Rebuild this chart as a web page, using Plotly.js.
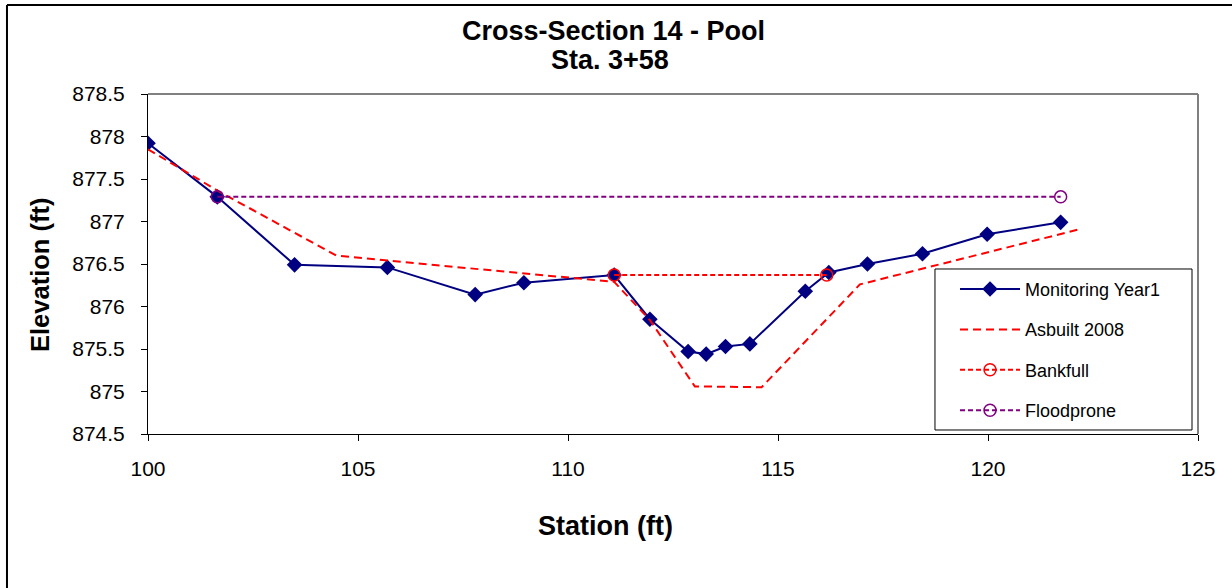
<!DOCTYPE html>
<html>
<head>
<meta charset="utf-8">
<script src="https://cdn.plot.ly/plotly-3.0.1.min.js"></script>
<style>html,body{margin:0;padding:0;background:#fff;}#chart{width:1232px;height:588px;}</style>
</head>
<body>
<div id="chart"></div>
<script>
// Monitoring Year1
const monX = [100.0, 101.65, 103.49, 105.70, 107.79, 108.95, 111.10, 111.95, 112.86, 113.29, 113.75, 114.33, 115.65, 116.21, 117.13, 118.44, 119.98, 121.73];
const monY = [877.92, 877.29, 876.49, 876.46, 876.14, 876.28, 876.37, 875.85, 875.47, 875.44, 875.53, 875.56, 876.18, 876.40, 876.50, 876.62, 876.85, 876.99];
// Asbuilt 2008
const asbX = [100.0, 101.70, 104.48, 105.70, 111.10, 111.95, 113.02, 114.61, 116.95, 122.19];
const asbY = [877.85, 877.35, 876.60, 876.54, 876.29, 875.84, 875.06, 875.05, 876.26, 876.91];
// Bankfull
const bkfX = [111.10, 116.16];
const bkfY = [876.37, 876.37];
// Floodprone
const fpX = [101.65, 121.73];
const fpY = [877.29, 877.29];

const titleLines = ['Cross-Section 14 - Pool', 'Sta. 3+58'];
const xTitle = 'Station (ft)';
const yTitle = 'Elevation (ft)';
const xTicks = [100, 105, 110, 115, 120, 125];
const yTicks = [874.5, 875, 875.5, 876, 876.5, 877, 877.5, 878, 878.5];
const yTickText = ['874.5', '875', '875.5', '876', '876.5', '877', '877.5', '878', '878.5'];

const font = 'Liberation Sans, Arial, sans-serif';

const traces = [
  {x: monX, y: monY, name: 'Monitoring Year1', mode: 'lines+markers', legendgroup: 'a',
   line: {color: '#000080', width: 2}, marker: {symbol: 'diamond', size: 12, color: '#000080'}},
  {x: asbX, y: asbY, name: 'Asbuilt 2008', mode: 'lines', legendgroup: 'b',
   line: {color: '#ff0000', width: 2, dash: '8px,5px'}},
  {x: bkfX, y: bkfY, name: 'Bankfull', mode: 'lines+markers', legendgroup: 'c',
   line: {color: '#ff0000', width: 2, dash: '5px,3px'},
   marker: {symbol: 'circle-open', size: 12, color: '#ff0000', line: {width: 1.5}}},
  {x: fpX, y: fpY, name: 'Floodprone', mode: 'lines+markers', legendgroup: 'd',
   line: {color: '#800080', width: 2, dash: '5px,3px'},
   marker: {symbol: 'circle-open', size: 12, color: '#800080', line: {width: 1.5}}}
];

const layout = {
  width: 1232, height: 588,
  margin: {l: 148, r: 34, t: 94, b: 154},
  paper_bgcolor: '#ffffff', plot_bgcolor: '#ffffff',
  font: {family: font, color: '#000'},
  annotations: [
    {text: '<b>' + titleLines[0] + '</b>', xref: 'paper', yref: 'paper', x: (613.5 - 148) / 1050, y: (434 - 31) / 340, xanchor: 'center', yanchor: 'middle', showarrow: false, font: {size: 27, family: font}},
    {text: '<b>' + titleLines[1] + '</b>', xref: 'paper', yref: 'paper', x: (610 - 148) / 1050, y: (434 - 60) / 340, xanchor: 'center', yanchor: 'middle', showarrow: false, font: {size: 27, family: font}},
    {text: '<b>' + xTitle + '</b>', xref: 'paper', yref: 'paper', x: (605 - 148) / 1050, y: (434 - 526) / 340, xanchor: 'center', yanchor: 'middle', showarrow: false, font: {size: 27, family: font}},
    {text: '<b>' + yTitle + '</b>', xref: 'paper', yref: 'paper', x: (40 - 148) / 1050, y: (434 - 275) / 340, xanchor: 'center', yanchor: 'middle', textangle: -90, showarrow: false, font: {size: 25.5, family: font}}
  ],
  xaxis: {range: [100, 125], tickvals: xTicks, ticktext: xTicks.map(String),
          ticks: 'outside', ticklen: 6, tickcolor: '#000', showline: true, linecolor: '#000', linewidth: 1,
          showgrid: false, zeroline: false, tickfont: {size: 21, family: font}, ticklabelstandoff: 10},
  yaxis: {range: [874.5, 878.5], tickvals: yTicks, ticktext: yTickText,
          ticks: 'outside', ticklen: 6, tickcolor: '#000', showline: true, linecolor: '#000', linewidth: 1,
          showgrid: false, zeroline: false, tickfont: {size: 21, family: font}, ticklabelstandoff: 12},
  legend: {x: 0.7686, y: 0.48, xanchor: 'left', yanchor: 'top', bgcolor: 'rgba(0,0,0,0)',
           borderwidth: 0, font: {size: 18, family: font},
           traceorder: 'grouped', tracegroupgap: 14, itemwidth: 60},
  showlegend: true,
  shapes: [
    {type: 'line', xref: 'paper', yref: 'paper', x0: 0, x1: 1, y0: 1, y1: 1, line: {color: '#808080', width: 2}},
    {type: 'line', xref: 'paper', yref: 'paper', x0: 1, x1: 1, y0: 0, y1: 1, line: {color: '#808080', width: 2}},
    {type: 'rect', xref: 'paper', yref: 'paper', x0: 0.7495, x1: 0.9943, y0: 0.0118, y1: 0.4853, fillcolor: '#ffffff', line: {color: '#000', width: 1}, layer: 'above'},
    {type: 'line', xref: 'paper', yref: 'paper', x0: -0.1343, x1: 1.04, y0: 1.2618, y1: 1.2618, line: {color: '#000', width: 2}},
    {type: 'line', xref: 'paper', yref: 'paper', x0: -0.1343, x1: -0.1343, y0: -0.46, y1: 1.2618, line: {color: '#000', width: 2}}
  ]
};

Plotly.newPlot('chart', traces, layout, {displayModeBar: false, staticPlot: true});
</script>
</body>
</html>
